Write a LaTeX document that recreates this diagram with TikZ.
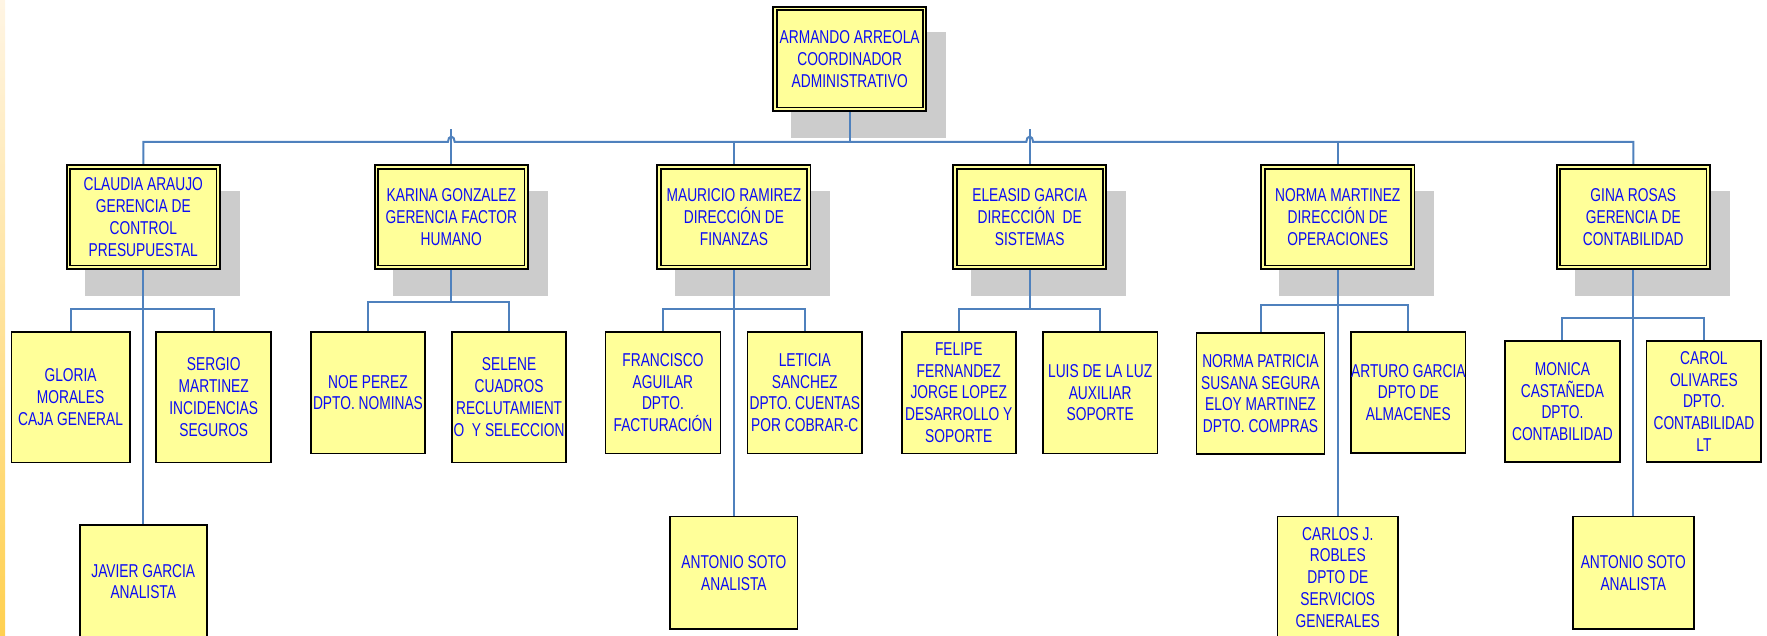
\documentclass[tikz,border=0pt]{standalone}
\usepackage{fontspec}
\setmainfont{Liberation Sans}[FakeStretch=0.74]
\usetikzlibrary{calc}
\pgfdeclarelayer{back}
\pgfdeclarelayer{mid}
\pgfsetlayers{back,mid,main}

\definecolor{boxfill}{RGB}{255,255,153}
\definecolor{inkblue}{RGB}{12,12,245}
\definecolor{linkblue}{RGB}{79,129,189}
\definecolor{shadowgray}{RGB}{204,204,204}
\definecolor{stripTop}{RGB}{255,245,228}
\definecolor{stripBot}{RGB}{255,208,80}

\tikzset{
  lbl/.style={font=\fontsize{18.6}{21.8}\selectfont, text=inkblue, align=center,
              inner sep=0pt, outer sep=0pt, rectangle},
  chief/.style={lbl, fill=boxfill, draw=black, line width=1.8pt, double=boxfill,
                double distance=1.7pt, minimum width=149.7pt, minimum height=100.4pt},
  staff/.style 2 args={lbl, fill=boxfill, draw=black, line width=1.7pt,
                minimum width=#1pt, minimum height=#2pt},
  conn/.style={draw=linkblue, line width=2pt},
  hop/.style={start angle=180, end angle=360, x radius=3.4, y radius=5.5},
}

\begin{document}
\begin{tikzpicture}[x=1pt, y=-1pt]
\useasboundingbox (0,0) rectangle (1767,636);
\clip (0,0) rectangle (1767,636);

% page edge strip
\shade[top color=stripTop, bottom color=stripBot] (0,0) rectangle (5,636);

% top level
\node[chief, minimum height=100.7pt] (top) at (849.7,59) {ARMANDO ARREOLA\\COORDINADOR\\ADMINISTRATIVO};

% second level
\node[chief] (claudia)  at (143.3,217.15)  {CLAUDIA ARAUJO\\GERENCIA DE\\CONTROL\\PRESUPUESTAL};
\node[chief] (karina)   at (451.3,217.15)  {KARINA GONZALEZ\\GERENCIA FACTOR\\HUMANO};
\node[chief] (mauricio) at (733.9,217.15)  {MAURICIO RAMIREZ\\DIRECCIÓN DE\\FINANZAS};
\node[chief] (eleasid)  at (1029.7,217.15) {ELEASID GARCIA\\DIRECCIÓN\ \ DE\\SISTEMAS};
\node[chief] (normam)   at (1337.8,217.15) {NORMA MARTINEZ\\DIRECCIÓN DE\\OPERACIONES};
\node[chief] (gina)     at (1633.3,217.15) {GINA ROSAS\\GERENCIA DE\\CONTABILIDAD};

% third level
\node[staff={118.1}{130.6}] (gloria)    at (70.6,397.15)   {GLORIA\\MORALES\\CAJA GENERAL};
\node[staff={115}{130.6}]   (sergio)    at (213.75,397.15) {SERGIO\\MARTINEZ\\INCIDENCIAS\\SEGUROS};
\node[staff={127.3}{113}]   (javier)    at (143.3,581.65)  {JAVIER GARCIA\\ANALISTA};
\node[staff={114.2}{121.6}] (noe)       at (367.95,392.65) {NOE PEREZ\\DPTO. NOMINAS};
\node[staff={114.3}{130.6}] (selene)    at (509.1,397.15)  {SELENE\\CUADROS\\RECLUTAMIENT\\O\ \ Y SELECCION};
\node[staff={115}{121.6}]   (francisco) at (662.95,392.65) {FRANCISCO\\AGUILAR\\DPTO.\\FACTURACIÓN};
\node[staff={114.6}{121.6}] (leticia)   at (804.75,392.65) {LETICIA\\SANCHEZ\\DPTO. CUENTAS\\POR COBRAR-C};
\node[staff={127.2}{112.6}] (antonioA)  at (733.9,572.85)  {ANTONIO SOTO\\ANALISTA};
\node[staff={114.2}{121.6}] (felipe)    at (958.75,392.65) {FELIPE\\FERNANDEZ\\JORGE LOPEZ\\DESARROLLO Y\\SOPORTE};
\node[staff={114.6}{121.6}] (luis)      at (1100.15,392.65) {LUIS DE LA LUZ\\AUXILIAR\\SOPORTE};
\node[staff={127.9}{121.3}] (normap)    at (1260.5,393.5)  {NORMA PATRICIA\\SUSANA SEGURA\\ELOY MARTINEZ\\DPTO. COMPRAS};
\node[staff={114.4}{121.3}] (arturo)    at (1408.35,392.5) {ARTURO GARCIA\\DPTO DE\\ALMACENES};
\node[staff={120.7}{121.6}] (carlos)    at (1337.8,577.35) {CARLOS J.\\ROBLES\\DPTO DE\\SERVICIOS\\GENERALES};
\node[staff={114.7}{121.3}] (monica)    at (1562.4,401.5)  {MONICA\\CASTAÑEDA\\DPTO.\\CONTABILIDAD};
\node[staff={114.7}{121.3}] (carol)     at (1703.9,401.5)  {CAROL\\OLIVARES\\DPTO.\\CONTABILIDAD\\LT};
\node[staff={120.7}{112.6}] (antonioB)  at (1633.3,572.85) {ANTONIO SOTO\\ANALISTA};

% drop shadows of the double-framed boxes
\begin{pgfonlayer}{back}
  \foreach \n in {top,claudia,karina,mauricio,eleasid,normam,gina}
    \fill[shadowgray] ($(\n.north west)+(16.4,23.6)$) rectangle ($(\n.south east)+(21.4,28.9)$);
\end{pgfonlayer}

% reporting lines
\begin{pgfonlayer}{mid}
  \coordinate (bus) at (0,142);
  \draw[conn] (top.south) -- (top.south |- bus);
  \draw[conn] (claudia.north) |- ($(karina.north |- bus)+(-3.4,0)$)
      arc[hop]
      -- ($(eleasid.north |- bus)+(-3.4,0)$)
      arc[hop]
      -- (gina.north |- bus) -- (gina.north);
  \draw[conn] (karina.north) -- ($(karina.north |- bus)+(0,-13)$);
  \draw[conn] (eleasid.north) -- ($(eleasid.north |- bus)+(0,-13)$);
  \draw[conn] (mauricio.north) -- (mauricio.north |- bus);
  \draw[conn] (normam.north) -- (normam.north |- bus);

  \coordinate (jc) at (143.3,309.3);
  \draw[conn] (claudia.south) -- (claudia.south |- javier.north);
  \draw[conn] (gloria.north) |- (jc) -| (sergio.north);

  \coordinate (kc) at (451.3,301.7);
  \draw[conn] (karina.south) -- (kc);
  \draw[conn] (noe.north) |- (kc) -| (selene.north);

  \coordinate (mc) at (733.9,309.3);
  \draw[conn] (mauricio.south) -- (mauricio.south |- antonioA.north);
  \draw[conn] (francisco.north) |- (mc) -| (leticia.north);

  \coordinate (ec) at (1029.7,309.3);
  \draw[conn] (eleasid.south) -- (ec);
  \draw[conn] (felipe.north) |- (ec) -| (luis.north);

  \coordinate (nc) at (1337.8,304.7);
  \draw[conn] (normam.south) -- (normam.south |- carlos.north);
  \draw[conn] (normap.north) |- (nc) -| (arturo.north);

  \coordinate (gc) at (1633.3,318);
  \draw[conn] (gina.south) -- (gina.south |- antonioB.north);
  \draw[conn] (monica.north) |- (gc) -| (carol.north);
\end{pgfonlayer}
\end{tikzpicture}
\end{document}
